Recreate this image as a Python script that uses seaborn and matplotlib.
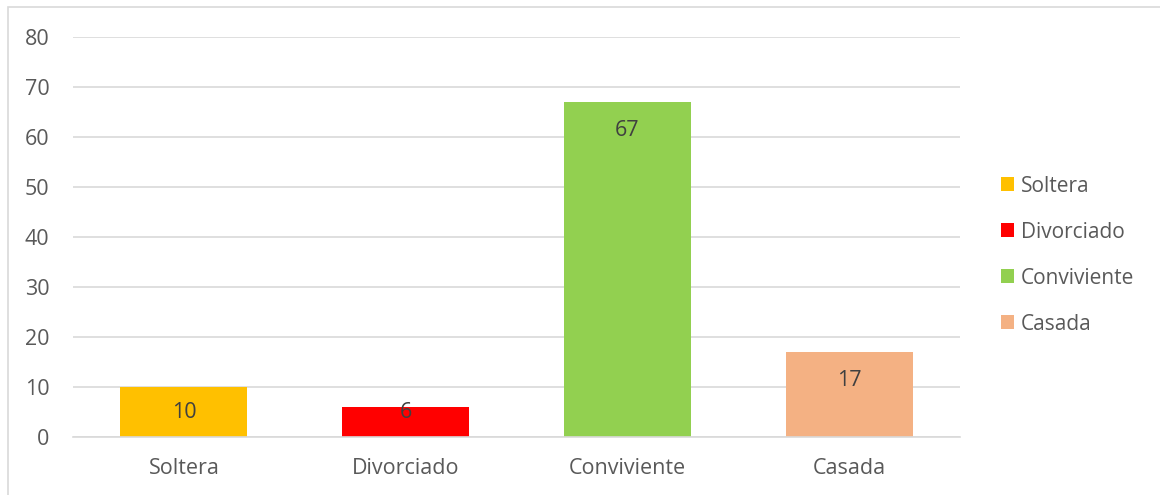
import matplotlib
matplotlib.use("Agg")
import matplotlib.pyplot as plt
import seaborn as sns
import pandas as pd
from matplotlib.patches import Rectangle

categories = ["Soltera", "Divorciado", "Conviviente", "Casada"]
values = [10, 6, 67, 17]
colors = ["#FFC000", "#FF0000", "#92D050", "#F4B183"]
y_ticks = [0, 10, 20, 30, 40, 50, 60, 70, 80]

sns.set_theme(style="white")
plt.rcParams["font.family"] = ["Open Sans", "DejaVu Sans"]
text_color = "#595959"
grid_color = "#D9D9D9"
fs = 15.5

df = pd.DataFrame({"estado": categories, "n": values})

fig = plt.figure(figsize=(11.6, 4.95), dpi=100)
ax = fig.add_axes([73 / 1160, 1 - 437 / 495, (960 - 73) / 1160, 400 / 495])

sns.barplot(data=df, x="estado", y="n", hue="estado", order=categories,
            hue_order=categories, palette=colors, width=0.573, dodge=False,
            saturation=1, legend=True, linewidth=0, ax=ax)

ax.set_xlim(-0.5, 3.5)
ax.set_ylim(0, 80)
ax.set_yticks(y_ticks)
ax.yaxis.grid(True, color=grid_color, linewidth=1.2)
ax.set_axisbelow(True)
for s in ["top", "right", "left"]:
    ax.spines[s].set_visible(False)
ax.spines["bottom"].set_color(grid_color)
ax.spines["bottom"].set_linewidth(1.2)
ax.set_xlabel("")
ax.set_ylabel("")
ax.tick_params(axis="y", length=0, pad=17, labelsize=fs, labelcolor=text_color)
ax.tick_params(axis="x", length=0, pad=15, labelsize=fs, labelcolor=text_color)

# value labels placed just inside the top of each bar
for i, v in enumerate(values):
    ax.text(i, max(v - 5.7, 4.9), str(v), ha="center", va="center",
            fontsize=fs, color="#404040")

sns.move_legend(ax, loc="center left", bbox_to_anchor=(1.025, 0.455),
                frameon=False, title=None, fontsize=15, labelcolor=text_color,
                handlelength=0.65, handleheight=0.65, handletextpad=0.3,
                labelspacing=1.2)

# outer chart frame
fig.patches.append(Rectangle((8 / 1160, -0.1), 1.2, 1 - 7 / 495 + 0.1,
                             transform=fig.transFigure, fill=False,
                             edgecolor=grid_color, linewidth=1.2))

fig.savefig("out.png", dpi=100)
